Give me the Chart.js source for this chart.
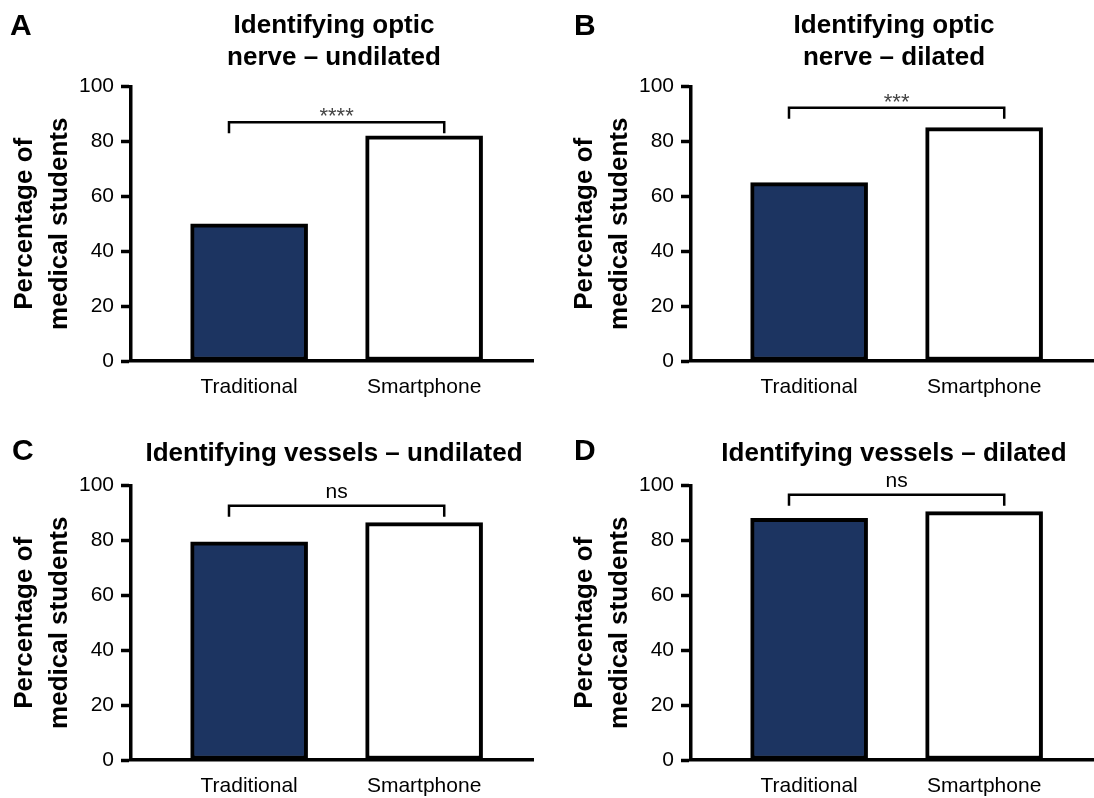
<!DOCTYPE html>
<html>
<head>
<meta charset="utf-8">
<script src="https://cdn.jsdelivr.net/npm/chart.js@4.4.1/dist/chart.umd.min.js"></script>
<style>
  html, body { margin: 0; padding: 0; background: #fff; }
  body { width: 1094px; height: 798px; position: relative; overflow: hidden;
         font-family: 'Liberation Sans', Arial, sans-serif; color: #000; }
  .panel { position: absolute; width: 534px; height: 399px; }
  .panel canvas { position: absolute; left: 0; top: 0; }
  .letter { position: absolute; font-weight: bold; font-size: 30px; line-height: 32px; }
  .title { position: absolute; font-weight: bold; font-size: 26px; line-height: 32px;
           text-align: center; white-space: nowrap; transform: translateX(-50%); }
</style>
</head>
<body>
<script>
// data
const categories = ['Traditional', 'Smartphone'];
const panelLetters = ['A', 'B', 'C', 'D'];
const panelTitles = [
  ['Identifying optic', 'nerve – undilated'],
  ['Identifying optic', 'nerve – dilated'],
  ['Identifying vessels – undilated'],
  ['Identifying vessels – dilated']
];
const traditionalValues = [50, 65, 79.5, 88];
const smartphoneValues = [82, 85, 86.5, 90.5];
const significance = ['****', '***', 'ns', 'ns'];
const bracketLevels = [87, 92.3, 92.6, 96.6];
const yTicks = [0, 20, 40, 60, 80, 100];
const yAxisTitle = ['Percentage of', 'medical students'];

const navy = '#1c3461';
Chart.defaults.font.family = "'Liberation Sans', Arial, sans-serif";
Chart.defaults.color = '#000';

// where each panel sits on the page
const panelPos = [[0, 0], [560, 0], [0, 399], [560, 399]];

// bracket + significance label above the two bars
const bracketPlugin = {
  id: 'sigBracket',
  afterDatasetsDraw(chart, args, opts) {
    const { ctx, scales: { x, y } } = chart;
    const xl = x.getPixelForValue(0 - 0.115);
    const xr = x.getPixelForValue(categories.length - 1 + 0.115);
    const yb = y.getPixelForValue(opts.level);
    const yLeg = yb + 11;
    ctx.save();
    ctx.strokeStyle = '#000';
    ctx.lineWidth = 2.5;
    ctx.lineJoin = 'miter';
    ctx.beginPath();
    ctx.moveTo(xl, yLeg);
    ctx.lineTo(xl, yb);
    ctx.lineTo(xr, yb);
    ctx.lineTo(xr, yLeg);
    ctx.stroke();
    const stars = /^\*+$/.test(opts.text);
    ctx.font = stars ? "22px 'Liberation Sans'" : "21px 'Liberation Sans'";
    ctx.fillStyle = stars ? '#444' : '#000';
    ctx.textAlign = 'center';
    ctx.textBaseline = 'alphabetic';
    ctx.fillText(opts.text, (xl + xr) / 2, stars ? yb + 1 : yb - 8);
    ctx.restore();
  }
};

panelLetters.forEach(function(letter, p) {
  const panel = document.createElement('div');
  panel.className = 'panel';
  panel.style.left = panelPos[p][0] + 'px';
  panel.style.top = panelPos[p][1] + 'px';

  const canvas = document.createElement('canvas');
  canvas.width = 534;
  canvas.height = 399;
  panel.appendChild(canvas);

  const lt = document.createElement('div');
  lt.className = 'letter';
  lt.textContent = letter;
  lt.style.left = (p % 2 === 0 ? (p === 0 ? 10 : 12) : 14) + 'px';
  lt.style.top = (p < 2 ? 8.5 : 35.3) + 'px';
  panel.appendChild(lt);

  const tt = document.createElement('div');
  tt.className = 'title';
  tt.innerHTML = panelTitles[p].join('<br>');
  tt.style.left = '334px';
  tt.style.top = (panelTitles[p].length > 1 ? 8 : 37) + 'px';
  panel.appendChild(tt);

  document.body.appendChild(panel);

  const values = [traditionalValues[p], smartphoneValues[p]];

  new Chart(canvas.getContext('2d'), {
    type: 'bar',
    data: {
      datasets: [{
        data: categories.map((c, i) => ({ x: i, y: values[i] })),
        backgroundColor: [navy, '#ffffff'],
        borderColor: '#000',
        borderWidth: 4,
        borderSkipped: false,
        barThickness: 117
      }]
    },
    options: {
      responsive: false,
      animation: false,
      events: [],
      layout: { padding: { left: 0, top: 86.5, right: 0, bottom: 0 } },
      scales: {
        x: {
          type: 'linear',
          min: -0.675,
          max: 1.628,
          offset: false,
          afterBuildTicks: s => { s.ticks = categories.map((c, i) => ({ value: i })); },
          afterFit: s => { s.height = 38; },
          ticks: {
            callback: v => categories[v] ?? '',
            font: { size: 21 },
            padding: 14,
            maxRotation: 0,
            autoSkip: false
          },
          grid: { drawOnChartArea: false, drawTicks: false },
          border: { color: '#000', width: 3.5 }
        },
        y: {
          min: 0,
          max: 100,
          afterBuildTicks: s => { s.ticks = yTicks.map(v => ({ value: v })); },
          afterFit: s => { s.width = 131; },
          ticks: { font: { size: 21 }, padding: 7 },
          grid: { drawOnChartArea: false, drawTicks: true, tickLength: 10, tickWidth: 3.5, tickColor: '#000' },
          border: { color: '#000', width: 3.5 },
          title: {
            display: true,
            text: yAxisTitle,
            font: { size: 26, weight: 'bold', lineHeight: 1.346 },
            padding: { top: 7, bottom: 0 }
          }
        }
      },
      plugins: {
        legend: { display: false },
        tooltip: { enabled: false },
        sigBracket: { level: bracketLevels[p], text: significance[p] }
      }
    },
    plugins: [bracketPlugin]
  });
});
</script>
</body>
</html>
